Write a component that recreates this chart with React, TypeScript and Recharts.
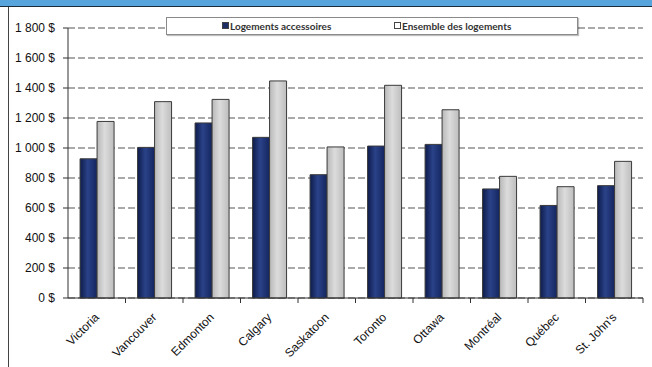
import { BarChart, Bar, XAxis, YAxis, CartesianGrid } from "recharts";

// Monthly rent by city: secondary suites vs. all rental units
const CITIES = [
  "Victoria",
  "Vancouver",
  "Edmonton",
  "Calgary",
  "Saskatoon",
  "Toronto",
  "Ottawa",
  "Montréal",
  "Québec",
  "St. John's",
];
const SECONDARY_SUITES = [928, 1004, 1167, 1071, 822, 1013, 1024, 727, 617, 749];
const ALL_UNITS = [1177, 1309, 1324, 1447, 1007, 1418, 1255, 811, 742, 911];
const Y_TICKS = [0, 200, 400, 600, 800, 1000, 1200, 1400, 1600, 1800];

const LEGEND_LABELS = ["Logements accessoires", "Ensemble des logements"];

const data = CITIES.map((city, i) => ({
  city,
  secondary: SECONDARY_SUITES[i],
  all: ALL_UNITS[i],
}));

const WIDTH = 652;
const HEIGHT = 367;
const MARGIN = { top: 28, right: 9, left: 0, bottom: 0 };
const Y_AXIS_W = 68;
const X_AXIS_H = 69;
const HALF_BAND = (WIDTH - MARGIN.right - Y_AXIS_W) / CITIES.length / 2;

const AXIS_FONT = "'Liberation Sans', Arial, sans-serif";

function formatDollars(v: number) {
  if (v >= 1000) {
    const rest = String(v % 1000).padStart(3, "0");
    return `${Math.floor(v / 1000)} ${rest} $`;
  }
  return `${v} $`;
}

// Excel-style category ticks sit on the band edges, labels on the band centre
function CityTick(props: any) {
  const { x, y, payload } = props;
  const half = payload?.offset ? payload.offset : HALF_BAND;
  return (
    <g>
      <line x1={x + half} x2={x + half} y1={y - 5} y2={y} stroke="#333" strokeWidth={1} />
      <g transform={`translate(${x + 3}, ${y + 15}) rotate(-45)`}>
        <text
          x={0}
          y={0}
          textAnchor="end"
          fontFamily={AXIS_FONT}
          fontSize={12}
          fill="#111"
        >
          {payload.value}
        </text>
      </g>
    </g>
  );
}

export default function App() {
  return (
    <div
      style={{
        position: "absolute",
        left: 0,
        top: 0,
        width: WIDTH,
        height: HEIGHT,
        background: "#fff",
        overflow: "hidden",
      }}
    >
      {/* header band */}
      <div
        style={{
          position: "absolute",
          left: 0,
          top: 0,
          width: WIDTH,
          height: 6,
          background: "#57a5dc",
          borderBottom: "1px solid #1d2a3a",
        }}
      />
      {/* left frame rule */}
      <div
        style={{
          position: "absolute",
          left: 8,
          top: 7,
          width: 1,
          height: HEIGHT - 7,
          background: "#444",
        }}
      />

      <div style={{ position: "absolute", left: 0, top: 0 }}>
        <BarChart
          width={WIDTH}
          height={HEIGHT}
          data={data}
          margin={MARGIN}
          barCategoryGap="21%"
          barGap={0}
        >
          <defs>
            <linearGradient id="navyFill" x1="0" y1="0" x2="1" y2="0">
              <stop offset="0%" stopColor="#0e1c4c" />
              <stop offset="45%" stopColor="#2a4288" />
              <stop offset="100%" stopColor="#142660" />
            </linearGradient>
            <linearGradient id="greyFill" x1="0" y1="0" x2="1" y2="0">
              <stop offset="0%" stopColor="#b8b8b8" />
              <stop offset="45%" stopColor="#dcdcdc" />
              <stop offset="100%" stopColor="#bdbdbd" />
            </linearGradient>
          </defs>
          <CartesianGrid
            vertical={false}
            stroke="#555"
            strokeDasharray="7 3"
            strokeWidth={1}
          />
          <XAxis
            dataKey="city"
            height={X_AXIS_H}
            interval={0}
            tickLine={false}
            tickSize={5}
            tickMargin={0}
            axisLine={{ stroke: "#333" }}
            tick={<CityTick />}
          />
          <YAxis
            width={Y_AXIS_W}
            domain={[0, 1800]}
            ticks={Y_TICKS}
            interval={0}
            tickSize={5}
            tickMargin={8}
            tickFormatter={formatDollars}
            axisLine={{ stroke: "#333" }}
            tickLine={{ stroke: "#333" }}
            tick={{ fontFamily: AXIS_FONT, fontSize: 12, fill: "#111" }}
          />
          <Bar
            dataKey="secondary"
            fill="url(#navyFill)"
            stroke="#3a3a3a"
            strokeWidth={1}
            isAnimationActive={false}
          />
          <Bar
            dataKey="all"
            fill="url(#greyFill)"
            stroke="#3a3a3a"
            strokeWidth={1}
            isAnimationActive={false}
          />
        </BarChart>
      </div>

      {/* legend box */}
      <div
        style={{
          position: "absolute",
          left: 166,
          top: 17,
          width: 410,
          height: 16,
          background: "#fff",
          border: "1px solid #8a8a8a",
          boxShadow: "1px 1px 1px rgba(0,0,0,0.25)",
          fontFamily: "Lato, 'Open Sans', sans-serif",
          fontWeight: 700,
          fontSize: 10,
          color: "#333",
        }}
      >
        <span style={{ position: "absolute", left: 55, top: 2, whiteSpace: "nowrap" }}>
          <span
            style={{
              display: "inline-block",
              width: 5,
              height: 5,
              background: "#1e2f66",
              border: "1px solid #444",
              marginRight: 1,
              verticalAlign: 1,
            }}
          />
          {LEGEND_LABELS[0]}
        </span>
        <span style={{ position: "absolute", left: 227, top: 2, whiteSpace: "nowrap" }}>
          <span
            style={{
              display: "inline-block",
              width: 5,
              height: 5,
              background: "#fff",
              border: "1px solid #444",
              marginRight: 1,
              verticalAlign: 1,
            }}
          />
          {LEGEND_LABELS[1]}
        </span>
      </div>
    </div>
  );
}
